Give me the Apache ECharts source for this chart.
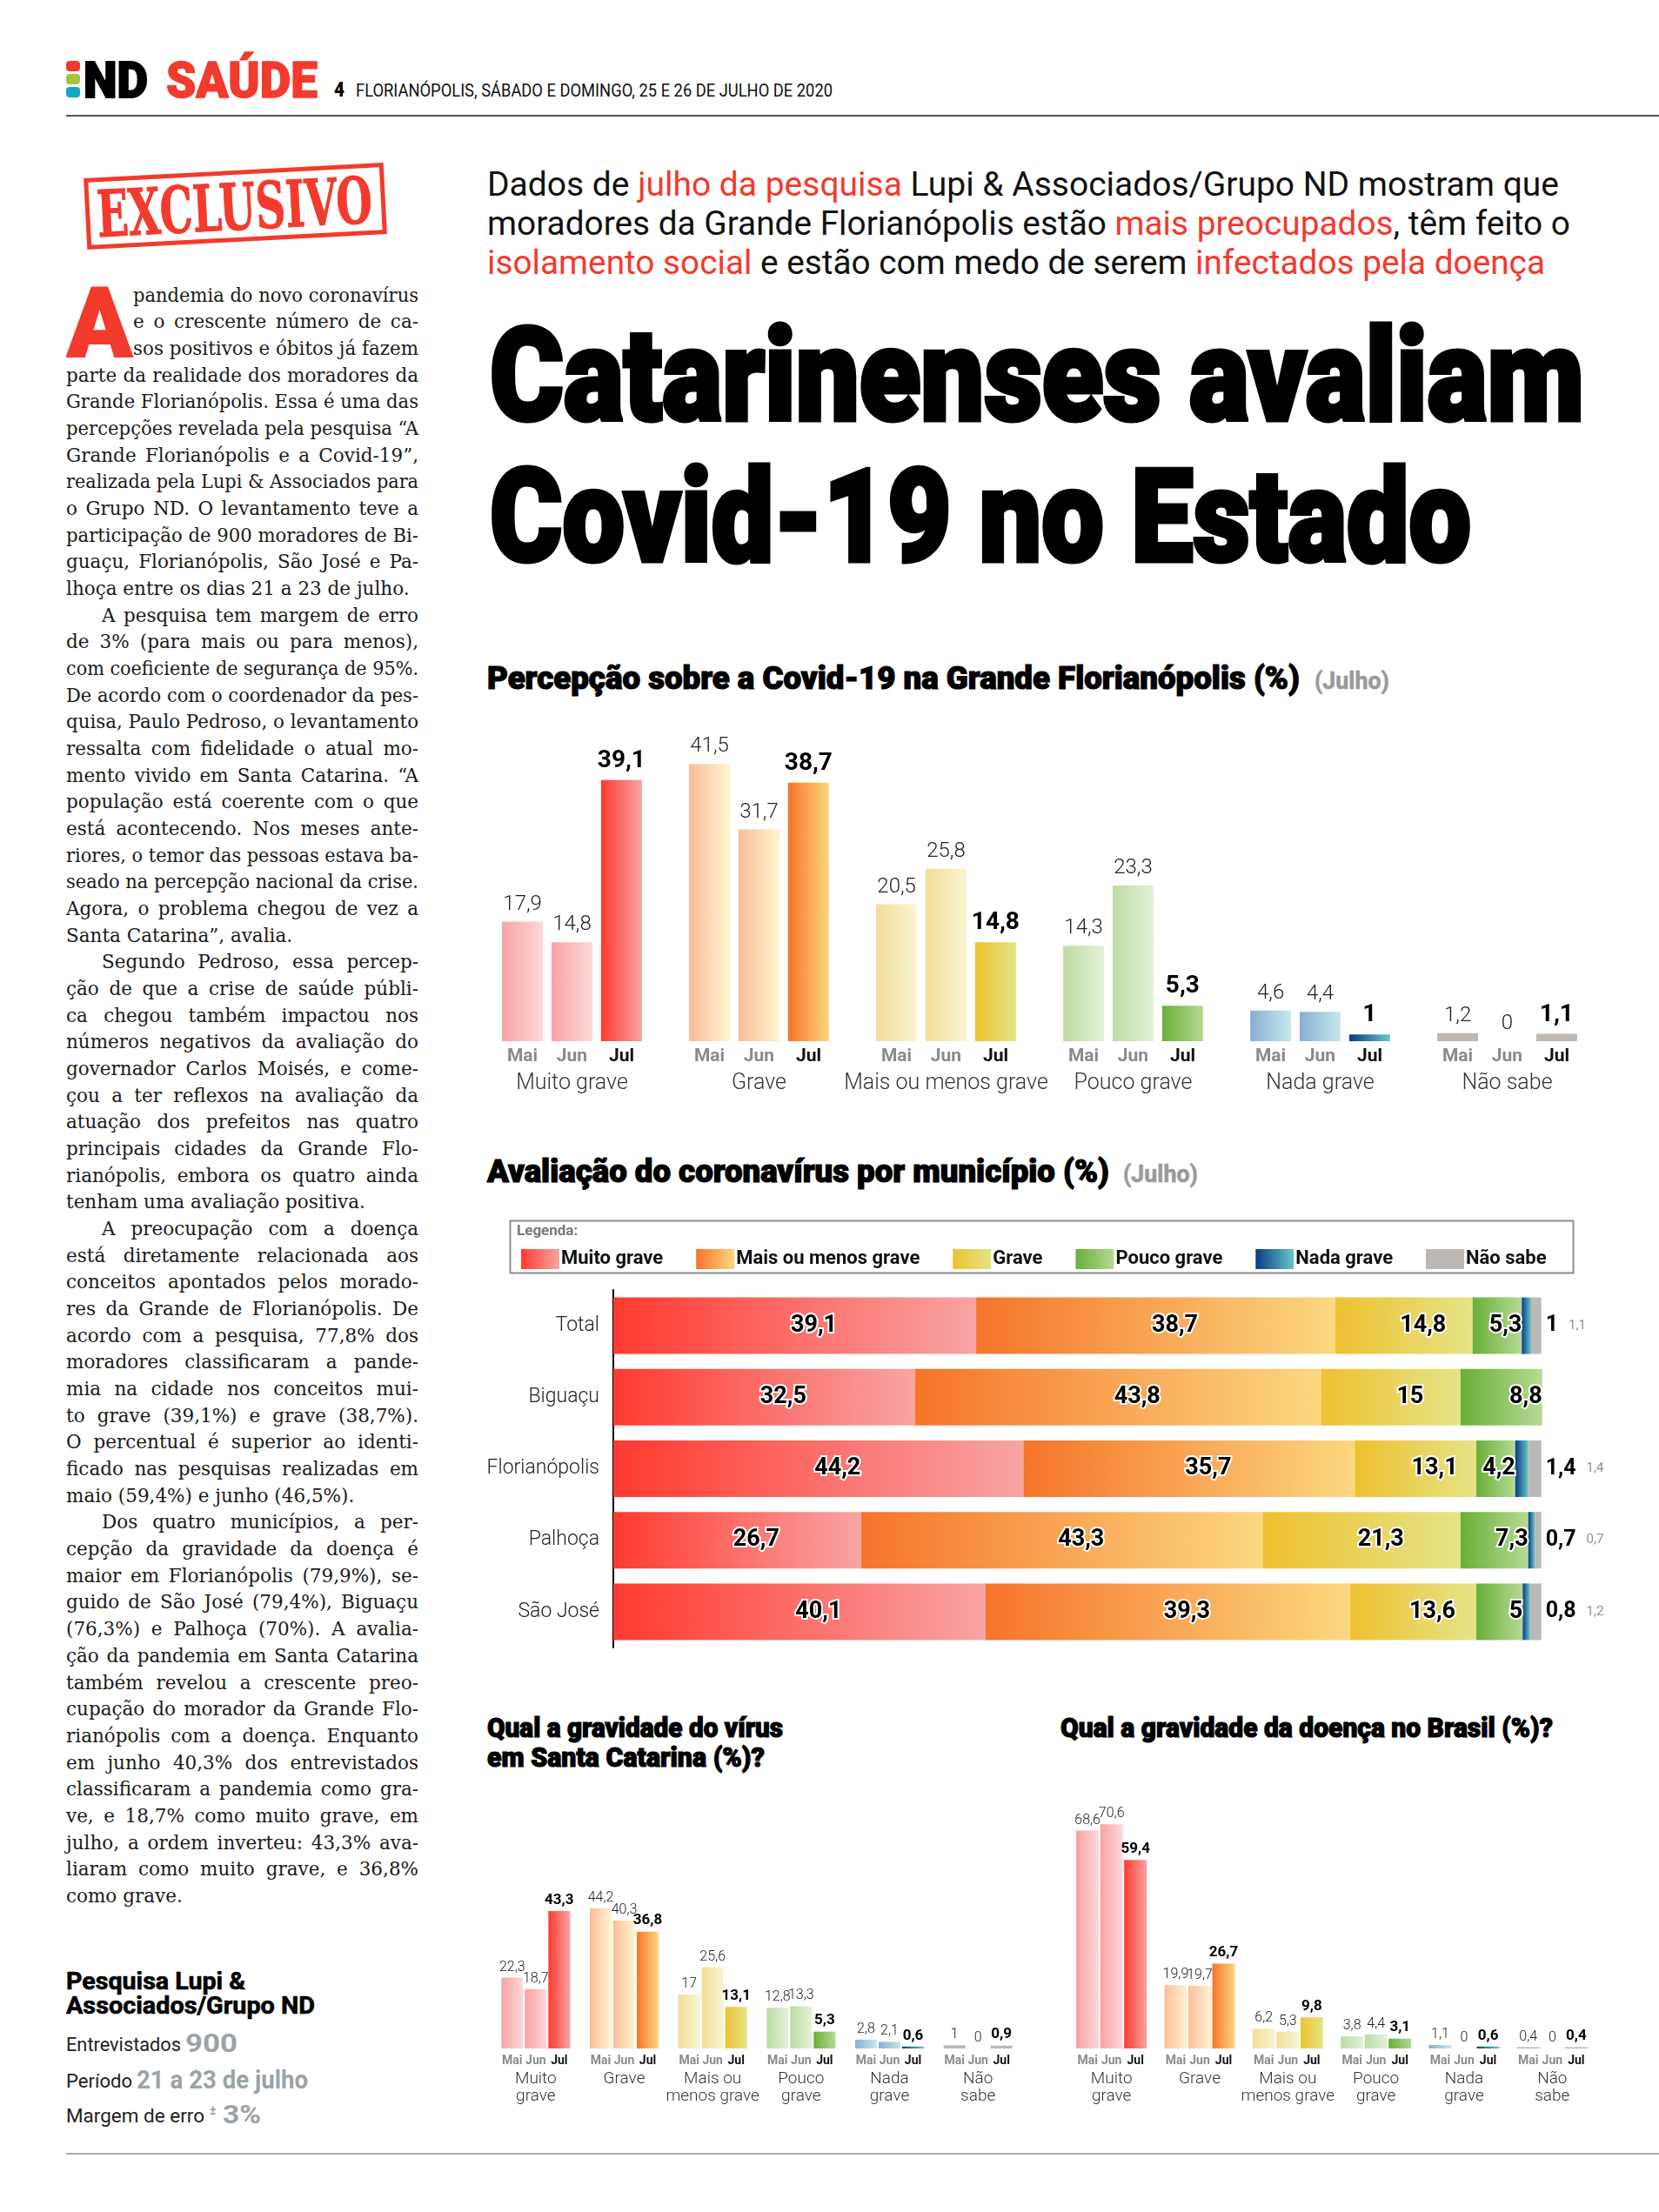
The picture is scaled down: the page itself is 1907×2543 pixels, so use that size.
<!DOCTYPE html>
<html><head><meta charset="utf-8">
<script src="https://cdn.jsdelivr.net/npm/echarts@6/dist/echarts.min.js"></script>
<style>
html,body{margin:0;padding:0;background:#fff;}
#page{position:relative;width:1907px;height:2543px;overflow:hidden;background:#fff;}
.t{position:absolute;white-space:nowrap;}
.t > span{display:inline-block;transform-origin:0 50%;white-space:nowrap;}
.chart{position:absolute;}
</style></head><body><div id="page"></div>
<script>
// ---------------- DATA ----------------
const groups = ['Muito grave','Grave','Mais ou menos grave','Pouco grave','Nada grave','Não sabe'];
const groupsTwoLine = ['Muito\ngrave','Grave','Mais ou\nmenos grave','Pouco\ngrave','Nada\ngrave','Não\nsabe'];
const months = ['Mai','Jun','Jul'];

// Percepção sobre a Covid-19 na Grande Florianópolis (%)
const percMai = [17.9, 41.5, 20.5, 14.3, 4.6, 1.2];
const percJun = [14.8, 31.7, 25.8, 23.3, 4.4, 0];
const percJul = [39.1, 38.7, 14.8, 5.3, 1, 1.1];

// Avaliação do coronavírus por município (%)
const municipios = ['Total','Biguaçu','Florianópolis','Palhoça','São José'];
const legendNames = ['Muito grave','Mais ou menos grave','Grave','Pouco grave','Nada grave','Não sabe'];
const munMuitoGrave = [39.1, 32.5, 44.2, 26.7, 40.1];
const munMaisOuMenos = [38.7, 43.8, 35.7, 43.3, 39.3];
const munGrave = [14.8, 15, 13.1, 21.3, 13.6];
const munPoucoGrave = [5.3, 8.8, 4.2, 7.3, 5];
const munNadaGrave = [1, 0, 1.4, 0.7, 0.8];
const munNaoSabe = [1.1, 0, 1.4, 0.7, 1.2];

// Qual a gravidade do vírus em Santa Catarina (%)?
const scMai = [22.3, 44.2, 17, 12.8, 2.8, 1];
const scJun = [18.7, 40.3, 25.6, 13.3, 2.1, 0];
const scJul = [43.3, 36.8, 13.1, 5.3, 0.6, 0.9];

// Qual a gravidade da doença no Brasil (%)?
const brMai = [68.6, 19.9, 6.2, 3.8, 1.1, 0.4];
const brJun = [70.6, 19.7, 5.3, 4.4, 0, 0];
const brJul = [59.4, 26.7, 9.8, 3.1, 0.6, 0.4];

// ---------------- STYLE ----------------
const CF = "Roboto,'Open Sans',sans-serif";
const RB = "Roboto,'Open Sans',sans-serif";
const RED = '#f23a2d';
const palSoft = [['#f8a2a3','#fdd9d9'],['#fbbd98','#fff4d2'],['#f2de98','#f8f5d3'],['#bddba4','#e4f2d8'],['#88aed5','#c6e9ec'],['#bdb8b4','#bdb8b4']];
const palStrong = [['#ff3a2f','#f8a4a5'],['#f6742a','#fbd880'],['#eec12f','#e5e487'],['#69af38','#b6da92'],['#093b86','#68c7ca'],['#bdb8b4','#bdb8b4']];
const grad = p => ({type:'linear',x:0,y:0,x2:1,y2:0,colorStops:[{offset:0,color:p[0]},{offset:1,color:p[1]}]});
const fmt = v => String(v).replace('.', ',');
const esc = s => s.replace(/&/g,'&amp;');

// ---------------- TEXT HELPERS ----------------
const page = document.getElementById('page');
const fitQueue = [];
function txt(html, o){
  const d = document.createElement('div');
  d.className = 't';
  const lh = o.lh || Math.round(o.size*1.2);
  d.style.cssText = `left:${o.x}px;top:${o.y - lh/2}px;height:${lh}px;line-height:${lh}px;font-size:${o.size}px;font-family:${o.family||RB};font-weight:${o.weight||400};color:${o.color||'#111'};${o.css||''}`;
  const s = document.createElement('span');
  s.innerHTML = html;
  d.appendChild(s);
  page.appendChild(d);
  if (o.w) fitQueue.push([s, o.w, o.mode||'scale']);
  return d;
}
function box(x,y,w,h,css){
  const d=document.createElement('div');
  d.style.cssText=`position:absolute;left:${x}px;top:${y}px;width:${w}px;height:${h}px;${css}`;
  page.appendChild(d); return d;
}
function doFit(){
  fitQueue.forEach(([s,w,mode])=>{
    s.style.transform=''; s.style.wordSpacing='';
    const nat = s.getBoundingClientRect().width;
    if (!nat) return;
    if (mode==='justify'){
      const spaces=(s.textContent.match(/ /g)||[]).length;
      if (nat < w && spaces>0) s.style.wordSpacing=((w-nat)/spaces)+'px';
      else if (nat > w) s.style.transform=`scaleX(${w/nat})`;
    } else if (mode==='shrink'){
      if (nat > w) s.style.transform=`scaleX(${w/nat})`;
    } else s.style.transform=`scaleX(${w/nat})`;
  });
}
const HEAVY = s => `-webkit-text-stroke:${s}px currentColor;`;

// ---------------- HEADER ----------------
box(76,70,16,12,`background:${RED};border-radius:4px;`);
box(76,85,16,12,'background:#a7c43b;border-radius:4px;');
box(76,100,16,12,'background:#16a7c3;border-radius:4px;');
txt('ND',{x:96,y:92,size:58,weight:900,color:'#000',w:74,css:HEAVY(2)});
txt('SAÚDE',{x:191,y:92,size:58,weight:900,color:RED,w:174,css:HEAVY(1.5)});
txt('4',{x:384,y:103,size:24,weight:900,color:'#000',w:12});
txt('FLORIANÓPOLIS, SÁBADO E DOMINGO, 25 E 26 DE JULHO DE 2020',{x:409,y:104,size:21,color:'#111',w:548});
box(76,132,1831,2,'background:#555;');
box(76,2475,1831,2,'background:#aaa;');

// ---------------- STAMP ----------------
const stamp = box(98,196,345,82,`border:5px solid ${RED};box-sizing:border-box;transform:rotate(-3deg);overflow:visible;`);
const stIn=document.createElement('div');
stIn.style.cssText=`position:absolute;left:8px;top:0;height:72px;line-height:74px;white-space:nowrap;color:${RED};font-family:'DejaVu Serif',serif;font-weight:bold;font-size:74px;-webkit-text-stroke:1px ${RED};`;
const stSpan=document.createElement('span'); stSpan.textContent='EXCLUSIVO';
stSpan.style.cssText='display:inline-block;transform-origin:0 50%;';
stIn.appendChild(stSpan); stamp.appendChild(stIn); fitQueue.push([stSpan,319,'scale']);

// ---------------- BODY TEXT ----------------
const bodyParas = [
['pandemia do novo coronavírus','e o crescente número de ca-','sos positivos e óbitos já fazem','parte da realidade dos moradores da','Grande Florianópolis. Essa é uma das','percepções revelada pela pesquisa “A','Grande Florianópolis e a Covid-19”,','realizada pela Lupi & Associados para','o Grupo ND. O levantamento teve a','participação de 900 moradores de Bi-','guaçu, Florianópolis, São José e Pa-','lhoça entre os dias 21 a 23 de julho.'],
['A pesquisa tem margem de erro','de 3% (para mais ou para menos),','com coeficiente de segurança de 95%.','De acordo com o coordenador da pes-','quisa, Paulo Pedroso, o levantamento','ressalta com fidelidade o atual mo-','mento vivido em Santa Catarina. “A','população está coerente com o que','está acontecendo. Nos meses ante-','riores, o temor das pessoas estava ba-','seado na percepção nacional da crise.','Agora, o problema chegou de vez a','Santa Catarina”, avalia.'],
['Segundo Pedroso, essa percep-','ção de que a crise de saúde públi-','ca chegou também impactou nos','números negativos da avaliação do','governador Carlos Moisés, e come-','çou a ter reflexos na avaliação da','atuação dos prefeitos nas quatro','principais cidades da Grande Flo-','rianópolis, embora os quatro ainda','tenham uma avaliação positiva.'],
['A preocupação com a doença','está diretamente relacionada aos','conceitos apontados pelos morado-','res da Grande de Florianópolis. De','acordo com a pesquisa, 77,8% dos','moradores classificaram a pande-','mia na cidade nos conceitos mui-','to grave (39,1%) e grave (38,7%).','O percentual é superior ao identi-','ficado nas pesquisas realizadas em','maio (59,4%) e junho (46,5%).'],
['Dos quatro municípios, a per-','cepção da gravidade da doença é','maior em Florianópolis (79,9%), se-','guido de São José (79,4%), Biguaçu','(76,3%) e Palhoça (70%). A avalia-','ção da pandemia em Santa Catarina','também revelou a crescente preo-','cupação do morador da Grande Flo-','rianópolis com a doença. Enquanto','em junho 40,3% dos entrevistados','classificaram a pandemia como gra-','ve, e 18,7% como muito grave, em','julho, a ordem inverteu: 43,3% ava-','liaram como muito grave, e 36,8%','como grave.']
];
let li=0;
bodyParas.forEach((para,pi)=>{
  para.forEach((line,k)=>{
    let x=76;
    if (pi===0 && k<3) x=153;
    else if (pi>0 && k===0) x=117;
    const last = k===para.length-1;
    txt(esc(line),{x, y:340+li*30.67, size:21.5, lh:30.67, family:"'DejaVu Serif',serif", color:'#1a1a1a', w:481-x, mode:last?'shrink':'justify'});
    li++;
  });
});
txt('A',{x:77,y:372,size:112,weight:900,color:RED,w:75,lh:120,css:HEAVY(2)});

// ---------------- INFO BOX ----------------
txt('Pesquisa Lupi &amp;',{x:76,y:2278,size:28,weight:700,color:'#000',w:206,lh:30,css:HEAVY(0.6)});
txt('Associados/Grupo ND',{x:76,y:2306,size:28,weight:700,color:'#000',w:286,lh:30,css:HEAVY(0.6)});
txt('Entrevistados',{x:76,y:2351,size:22,color:'#222',w:132});
txt('900',{x:213,y:2349,size:30,weight:700,color:'#9aa3a7',w:60});
txt('Período',{x:76,y:2393,size:22,color:'#222',w:76});
txt('21 a 23 de julho',{x:157,y:2391,size:30,weight:700,color:'#9aa3a7',w:197});
txt('Margem de erro',{x:76,y:2433,size:22,color:'#222',w:159});
txt('±',{x:241,y:2426,size:14,weight:700,color:'#9aa3a7'});
txt('3%',{x:256,y:2431,size:30,weight:700,color:'#9aa3a7',w:44});

// ---------------- DECK + HEADLINE ----------------
const R = s=>`<span style="color:${RED}">${s}</span>`;
txt('Dados de '+R('julho da pesquisa')+' Lupi &amp; Associados/Grupo ND mostram que',{x:560,y:212,size:38,color:'#111',w:1232});
txt('moradores da Grande Florianópolis estão '+R('mais preocupados')+', têm feito o',{x:560,y:257,size:38,color:'#111',w:1245});
txt(R('isolamento social')+' e estão com medo de serem '+R('infectados pela doença'),{x:560,y:302,size:38,color:'#111',w:1216});
txt('Catarinenses avaliam',{x:563,y:433,size:148,weight:900,color:'#000',w:1258,lh:180,css:HEAVY(5)});
txt('Covid-19 no Estado',{x:563,y:595,size:148,weight:900,color:'#000',w:1128,lh:180,css:HEAVY(5)});

// chart titles
const TH = HEAVY(1.2);
txt('Percepção sobre a Covid-19 na Grande Florianópolis (%)',{x:560,y:780,size:36,weight:900,color:'#000',w:934,css:TH});
txt('(Julho)',{x:1511,y:783,size:28,weight:700,color:'#9a9a9a',w:86,css:HEAVY(0.6)});
txt('Avaliação do coronavírus por município (%)',{x:560,y:1347,size:36,weight:900,color:'#000',w:715,css:TH});
txt('(Julho)',{x:1291,y:1350,size:28,weight:700,color:'#9a9a9a',w:86,css:HEAVY(0.6)});
txt('Qual a gravidade do vírus',{x:560,y:1986,size:32,weight:900,color:'#000',w:340,css:TH});
txt('em Santa Catarina (%)?',{x:560,y:2020,size:32,weight:900,color:'#000',w:319,css:TH});
txt('Qual a gravidade da doença no Brasil (%)?',{x:1219,y:1986,size:32,weight:900,color:'#000',w:566,css:TH});

doFit();

// ---------------- CHARTS ----------------
function mkDiv(x,y,w,h){const d=document.createElement('div');d.className='chart';d.style.cssText=`left:${x}px;top:${y}px;width:${w}px;height:${h}px;`;page.appendChild(d);return d;}

function groupChart(el, o){
  const ch = echarts.init(el, null, {renderer:'canvas'});
  const mk = (name, vals, strong) => ({
    name, type:'bar', barWidth:o.barWidth, barGap:o.barGap,
    data: vals.map((v,i)=>({value:v, itemStyle:{color:grad(strong?palStrong[i]:palSoft[i])}})),
    label:{show:true, position:'top', distance:o.valDist, formatter:p=>fmt(p.value),
      fontFamily:CF, fontSize:strong?o.valSizeB:o.valSize, fontWeight:strong?'bold':300, color:strong?'#000':'#222'},
    emphasis:{disabled:true}
  });
  ch.setOption({
    animation:false,
    textStyle:{fontFamily:CF},
    grid:Object.assign({containLabel:false, outerBoundsMode:'none'}, o.grid),
    xAxis:{type:'category', data:groups, axisLine:{show:false}, axisTick:{show:false}, splitLine:{show:false},
      axisLabel:{interval:0, margin:o.margin,
        formatter:(v,i)=>`{m|${months[0]}}{m|${months[1]}}{j|${months[2]}}\n`+o.catLabels[i].split('\n').map(s=>`{c|${s}}`).join('\n'),
        rich:{
          m:{width:o.slot, align:'center', fontSize:o.monthSize, fontWeight:'bold', color:'#8a8a8a', fontFamily:CF, lineHeight:o.monthLH},
          j:{width:o.slot, align:'center', fontSize:o.monthSize, fontWeight:'bold', color:'#111', fontFamily:CF, lineHeight:o.monthLH},
          c:{fontSize:o.catSize, color:'#333', fontWeight:300, fontFamily:CF, lineHeight:o.catLH, align:'center'}
        }}},
    yAxis:{type:'value', min:0, max:o.max, show:false},
    series:[mk(months[0],o.mai,false), mk(months[1],o.jun,false), mk(months[2],o.jul,true)]
  });
}

groupChart(mkDiv(540,790,1320,490), {
  grid:{left:10, top:23, width:1290, height:384}, max:50,
  mai:percMai, jun:percJun, jul:percJul, catLabels:groups,
  barWidth:47, barGap:'21%', slot:57, margin:5,
  monthSize:21, monthLH:26, catSize:25, catLH:36,
  valSize:24, valSizeB:28, valDist:8
});
groupChart(mkDiv(540,2050,660,390), {
  grid:{left:25, top:86, width:610, height:219}, max:60,
  mai:scMai, jun:scJun, jul:scJul, catLabels:groupsTwoLine,
  barWidth:25, barGap:'8%', slot:27, margin:3,
  monthSize:14, monthLH:22, catSize:19, catLH:20,
  valSize:16, valSizeB:17, valDist:4
});
groupChart(mkDiv(1200,2050,660,390), {
  grid:{left:27, top:13, width:608, height:292}, max:80,
  mai:brMai, jun:brJun, jul:brJul, catLabels:groupsTwoLine,
  barWidth:26, barGap:'6%', slot:27.5, margin:3,
  monthSize:14, monthLH:22, catSize:19, catLH:20,
  valSize:16, valSizeB:17, valDist:4
});

// municipal stacked chart
(function(){
  const ch = echarts.init(mkDiv(510,1390,1350,510), null, {renderer:'canvas'});
  const mainLabel = {show:true, position:'inside', offset:[22,0], formatter:p=>p.value?fmt(p.value):'',
    fontFamily:CF, fontSize:27, fontWeight:'bold', color:'#000', textBorderColor:'#fff', textBorderWidth:4};
  const vals = [munMuitoGrave, munMaisOuMenos, munGrave, munPoucoGrave, munNadaGrave, munNaoSabe];
  const series = legendNames.map((name,k)=>{
    const s = {name, type:'bar', stack:'t', barWidth:65, data:vals[k],
      itemStyle:{color:grad(palStrong[k])}, emphasis:{disabled:true}, label:{show:false}};
    if (k<3) s.label = mainLabel;
    if (k===3) s.label = Object.assign({}, mainLabel, {position:'insideRight', offset:[2,0], distance:2});
    if (k===5) s.label = {show:true, position:'right', distance:5,
      formatter:p=>{const n=munNadaGrave[p.dataIndex], g=munNaoSabe[p.dataIndex]; if(!n && !g) return ''; return `{n|${fmt(n)}}{g|${fmt(g)}}`;},
      rich:{n:{fontFamily:CF, fontSize:25, fontWeight:'bold', color:'#000', textBorderColor:'#fff', textBorderWidth:3, padding:[0,12,0,0]},
            g:{fontFamily:CF, fontSize:15, color:'#8f8f8f'}}};
    return s;
  });
  ch.setOption({
    animation:false,
    textStyle:{fontFamily:CF},
    grid:{left:195, top:93, width:1088, height:411, containLabel:false, outerBoundsMode:'none'},
    legend:{left:84, top:41, itemWidth:44, itemHeight:23, itemGap:38, icon:'rect', selectedMode:false,
      textStyle:{fontFamily:CF, fontSize:22, fontWeight:'bold', color:'#111', padding:[0,0,0,-3]}, data:legendNames},
    graphic:[
      {type:'rect', left:74, top:11, shape:{width:1222, height:60}, style:{fill:'none', stroke:'#8c8c8c', lineWidth:2}},
      {type:'text', left:84, top:17, style:{text:'Legenda:', fill:'#777', font:`bold 17px ${CF}`}}
    ],
    xAxis:{type:'value', min:0, max:102, show:false},
    yAxis:{type:'category', inverse:true, data:municipios,
      axisLine:{show:true, lineStyle:{color:'#000', width:2}}, axisTick:{show:false},
      axisLabel:{margin:16, fontFamily:CF, fontSize:23, fontWeight:300, color:'#222'}},
    series
  });
})();

if (document.fonts && document.fonts.ready) document.fonts.ready.then(doFit);
</script>
</body></html>
